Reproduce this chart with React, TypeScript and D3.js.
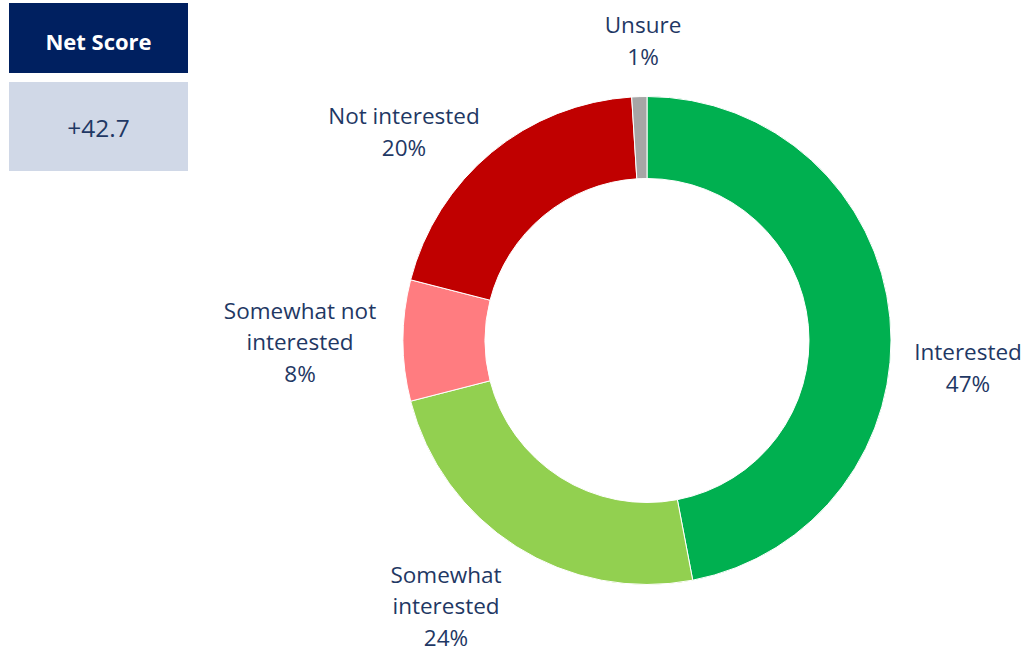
import { arc, pie, PieArcDatum } from 'd3';

const categories = ['Interested', 'Somewhat interested', 'Somewhat not interested', 'Not interested', 'Unsure'];
const values = [47, 24, 8, 20, 1];
const labelLines = [
  ['Interested'],
  ['Somewhat', 'interested'],
  ['Somewhat not', 'interested'],
  ['Not interested'],
  ['Unsure'],
];
const colors = ['#00B050', '#92D050', '#FF7C80', '#C00000', '#A6A6A6'];
const netScoreTitle = 'Net Score';
const netScoreValue = '+42.7';

// label block centres, relative to the donut centre
const labelOffsets: [number, number][] = [
  [321, 27],
  [-201, 265],
  [-347, 1],
  [-243, -209],
  [-4, -300],
];

type Slice = { name: string; value: number; color: string; lines: string[]; offset: [number, number] };

export default function App() {
  const width = 1027;
  const height = 653;
  const cx = 647;
  const cy = 340.5;
  const outer = 244;
  const inner = 162;
  const font = "'Open Sans', sans-serif";
  const textColor = '#1F3864';
  const lineH = 31.5;

  const data: Slice[] = categories.map((name, i) => ({
    name,
    value: values[i],
    color: colors[i],
    lines: [...labelLines[i], `${values[i]}%`],
    offset: labelOffsets[i],
  }));

  const arcs = pie<Slice>()
    .value((d) => d.value)
    .sort(null)(data);

  const arcGen = arc<PieArcDatum<Slice>>().innerRadius(inner).outerRadius(outer);

  return (
    <svg
      width={width}
      height={height}
      style={{ position: 'absolute', left: 0, top: 0, background: '#fff' }}>
      <g>
        <rect x={9} y={3} width={179} height={70} fill='#002060' />
        <text
          x={98.5}
          y={41}
          textAnchor='middle'
          dominantBaseline='central'
          fontFamily={font}
          fontWeight='bold'
          fontSize={22}
          fill='#fff'>
          {netScoreTitle}
        </text>
        <rect x={9} y={82} width={179} height={89} fill='#D0D8E7' />
        <text
          x={98.5}
          y={127}
          textAnchor='middle'
          dominantBaseline='central'
          fontFamily={font}
          fontSize={24.5}
          fill={textColor}>
          {netScoreValue}
        </text>
      </g>
      <g transform={`translate(${cx}, ${cy})`}>
        {arcs.map((a) => (
          <path key={a.data.name} d={arcGen(a) ?? ''} fill={a.data.color} stroke='#fff' strokeWidth={1} />
        ))}
        {arcs.map((a) => {
          const [ox, oy] = a.data.offset;
          const n = a.data.lines.length;
          return (
            <text
              key={a.data.name + '-label'}
              textAnchor='middle'
              fontFamily={font}
              fontSize={22.5}
              fill={textColor}>
              {a.data.lines.map((l, j) => (
                <tspan
                  key={j}
                  x={ox}
                  y={oy + (j - (n - 1) / 2) * lineH}
                  dominantBaseline='central'>
                  {l}
                </tspan>
              ))}
            </text>
          );
        })}
      </g>
    </svg>
  );
}
